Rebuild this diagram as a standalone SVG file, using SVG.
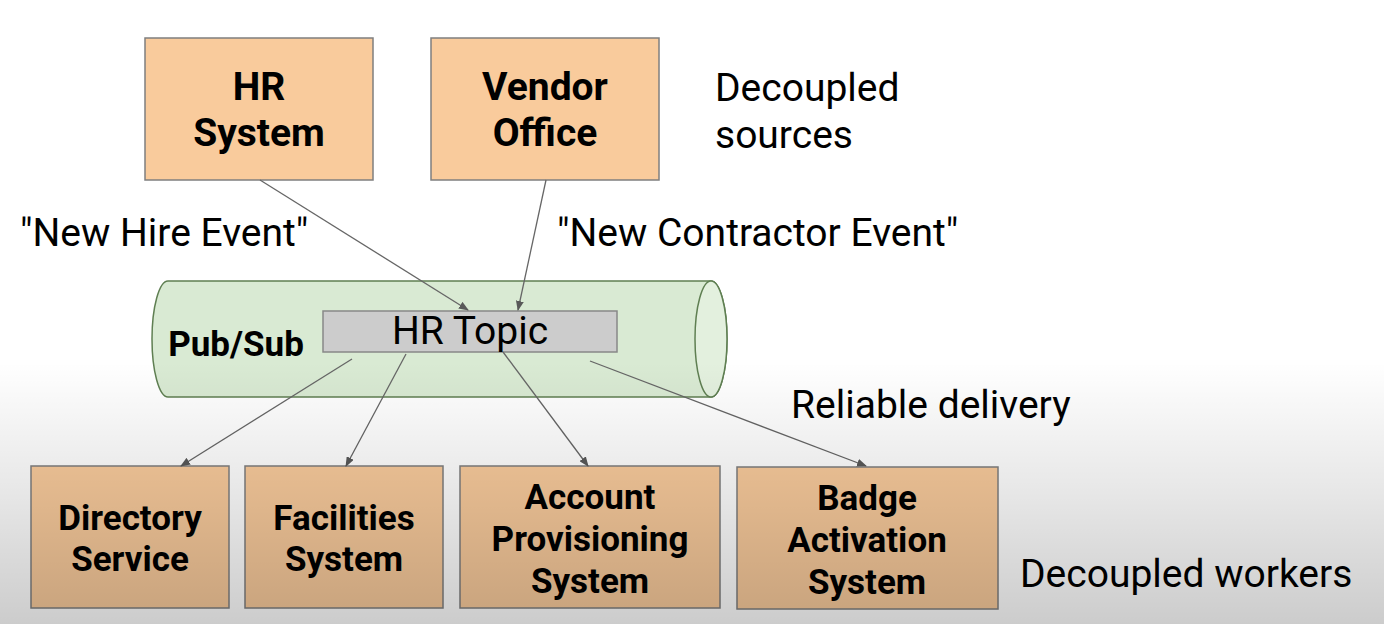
<svg xmlns="http://www.w3.org/2000/svg" width="1384" height="624" viewBox="0 0 1384 624">
<defs>
<linearGradient id="shade" x1="0" y1="0" x2="0" y2="1">
<stop offset="0" stop-color="#000" stop-opacity="0"/>
<stop offset="0.58" stop-color="#000" stop-opacity="0"/>
<stop offset="0.8" stop-color="#000" stop-opacity="0.1"/>
<stop offset="1" stop-color="#000" stop-opacity="0.2"/>
</linearGradient>
<marker id="arr" markerWidth="10" markerHeight="8" refX="9" refY="4" orient="auto" markerUnits="userSpaceOnUse">
<path d="M0,0 L10,4 L0,8 Z" fill="#595959"/>
</marker>
</defs>
<style>
.box{fill:#f9cb9c;stroke:#7f7f7f;stroke-width:1.5}
.b{font-family:Roboto,"Liberation Sans",sans-serif;font-weight:bold;fill:#000;text-anchor:middle}
.r{font-family:Roboto,"Liberation Sans",sans-serif;fill:#000}
.c{fill:none;stroke:#666;stroke-width:1.3;marker-end:url(#arr)}
</style>
<rect width="1384" height="624" fill="#fff"/>
<g id="pubsub">
<path d="M168,281 L711,281 A16,58 0 0 1 711,397 L168,397 A16,58 0 0 1 168,281 Z" fill="#d9ead3" stroke="#5f7f52" stroke-width="1.5"/>
<ellipse cx="711" cy="339" rx="16" ry="58" fill="#e3f0de" stroke="#5f7f52" stroke-width="1.5"/>
<text class="b" x="236" y="356" font-size="35">Pub/Sub</text>
</g>
<g id="hr-topic">
<rect x="323" y="311" width="294" height="41" fill="#ccc" stroke="#888" stroke-width="1.5"/>
<text class="r" x="470" y="344" font-size="39" text-anchor="middle">HR Topic</text>
</g>
<g id="hr-system">
<rect class="box" x="145" y="38" width="228" height="142"/>
<text class="b" font-size="39"><tspan x="259" y="100">HR</tspan><tspan x="259" y="146">System</tspan></text>
</g>
<g id="vendor-office">
<rect class="box" x="431" y="38" width="228" height="142"/>
<text class="b" font-size="39"><tspan x="545" y="100">Vendor</tspan><tspan x="545" y="146">Office</tspan></text>
</g>
<g id="directory-service">
<rect class="box" x="31" y="466" width="198" height="142"/>
<text class="b" font-size="35"><tspan x="130" y="530">Directory</tspan><tspan x="130" y="571">Service</tspan></text>
</g>
<g id="facilities-system">
<rect class="box" x="245" y="466" width="198" height="142"/>
<text class="b" font-size="35"><tspan x="344" y="530">Facilities</tspan><tspan x="344" y="571">System</tspan></text>
</g>
<g id="account-provisioning">
<rect class="box" x="460" y="466" width="260" height="142"/>
<text class="b" font-size="35"><tspan x="590" y="509">Account</tspan><tspan x="590" y="551">Provisioning</tspan><tspan x="590" y="593">System</tspan></text>
</g>
<g id="badge-activation">
<rect class="box" x="737" y="467" width="261" height="142"/>
<text class="b" font-size="35"><tspan x="867" y="510">Badge</tspan><tspan x="867" y="552">Activation</tspan><tspan x="867" y="594">System</tspan></text>
</g>
<g id="labels">
<text class="r" font-size="39"><tspan x="715" y="101">Decoupled</tspan><tspan x="715" y="148">sources</tspan></text>
<text class="r" x="20" y="246" font-size="39">"New Hire Event"</text>
<text class="r" x="557" y="246" font-size="39">"New Contractor Event"</text>
<text class="r" x="791" y="418" font-size="39">Reliable delivery</text>
<text class="r" x="1020" y="587" font-size="39">Decoupled workers</text>
</g>
<g id="connectors">
<line class="c" x1="260" y1="180" x2="468" y2="310"/>
<line class="c" x1="546" y1="180" x2="518" y2="310"/>
<line class="c" x1="352" y1="359" x2="181" y2="466"/>
<line class="c" x1="406" y1="354" x2="346" y2="466"/>
<line class="c" x1="503" y1="352" x2="588" y2="466"/>
<line class="c" x1="590" y1="361" x2="866" y2="466"/>
</g>
<rect width="1384" height="624" fill="url(#shade)" pointer-events="none"/>
</svg>
